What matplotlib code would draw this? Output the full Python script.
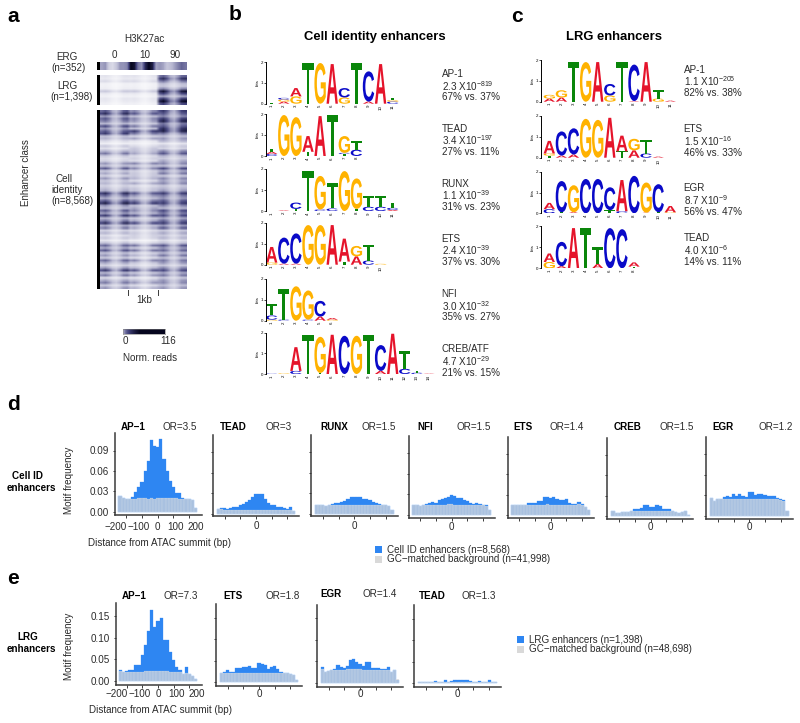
import numpy as np
import matplotlib
matplotlib.use("Agg")
import matplotlib.pyplot as plt
from matplotlib.colors import LinearSegmentedColormap
from matplotlib.font_manager import FontProperties
from matplotlib.patches import PathPatch, Rectangle
from matplotlib.textpath import TextPath
from matplotlib.transforms import Affine2D

plt.rcParams['font.family'] = ['Liberation Sans', 'DejaVu Sans']
plt.rcParams['mathtext.fontset'] = 'custom'
plt.rcParams['mathtext.rm'] = 'Liberation Sans'
plt.rcParams['mathtext.default'] = 'regular'

W, H = 800, 723

# --- panel a: heatmap
column_profile = [0.9, 1.0, 0.85, 0.6, 0.5, 0.7, 0.95, 1.0]
condition_labels = ['0', '10', '90']
erg_row = [0.45, 0.5, 0.25, 0.2, 0.3, 0.5, 0.5, 0.55, 1.0, 0.95, 0.6, 0.5, 0.85, 1.0, 0.9, 0.45,
           0.5, 0.45, 0.3, 0.35, 0.45, 0.55, 0.65, 0.6]
lrg_rows = [0.15, 0.12, 0.2, 0.08, 0.08, 0.1, 0.3, 0.12, 0.08, 0.14, 0.12, 0.08]
lrg_rows_90 = [0.65, 0.85, 0.6, 0.35, 0.3, 0.55, 0.95, 0.75, 0.45, 0.8, 1.0, 0.75]
cell_rows_0 = [0.7, 0.85, 0.5, 0.7, 0.6, 0.4, 0.75, 0.5, 0.7, 0.8, 0.35, 0.4, 0.2, 0.1, 0.3, 0.18,
               0.4, 0.6, 0.3, 0.2, 0.25, 0.5, 0.35, 0.7, 0.3, 0.45, 0.25, 0.5, 0.3, 0.4, 0.25, 0.35,
               0.45, 0.85, 0.65, 0.45, 0.7, 0.9, 0.5, 0.4, 0.7, 0.5, 0.8, 0.4, 0.6, 0.85, 0.45, 0.6,
               0.25, 0.4, 0.2, 0.3, 0.15, 0.35, 0.65, 0.45, 0.7, 0.35, 0.5, 0.3, 0.65, 0.45, 0.25, 0.5,
               0.8, 0.4, 0.6, 0.2, 0.45, 0.6, 0.3, 0.5]
cell_rows_10 = [0.55, 0.7, 0.35, 0.55, 0.5, 0.3, 0.6, 0.35, 0.8, 0.6, 0.25, 0.45, 0.15, 0.1, 0.2, 0.3,
                0.35, 0.45, 0.2, 0.25, 0.2, 0.55, 0.3, 0.55, 0.25, 0.3, 0.3, 0.4, 0.2, 0.45, 0.2, 0.3,
                0.35, 0.7, 0.5, 0.35, 0.6, 0.8, 0.35, 0.45, 0.55, 0.4, 0.7, 0.3, 0.45, 0.75, 0.35, 0.45,
                0.2, 0.3, 0.25, 0.25, 0.1, 0.25, 0.6, 0.3, 0.6, 0.25, 0.4, 0.2, 0.55, 0.3, 0.2, 0.4,
                0.7, 0.3, 0.5, 0.15, 0.35, 0.5, 0.2, 0.4]
cell_rows_90 = [0.8, 0.7, 0.55, 0.8, 0.9, 0.6, 0.7, 0.85, 0.9, 0.6, 0.35, 0.5, 0.4, 0.15, 0.3, 0.25,
                0.55, 0.7, 0.4, 0.3, 0.45, 0.55, 0.35, 0.75, 0.45, 0.6, 0.3, 0.55, 0.45, 0.55, 0.3, 0.4,
                0.5, 0.8, 0.6, 0.5, 0.7, 0.8, 0.55, 0.4, 0.75, 0.6, 0.75, 0.45, 0.65, 0.8, 0.5, 0.7,
                0.3, 0.45, 0.3, 0.4, 0.2, 0.35, 0.7, 0.5, 0.65, 0.4, 0.6, 0.35, 0.6, 0.5, 0.3, 0.55,
                0.75, 0.45, 0.6, 0.3, 0.5, 0.55, 0.35, 0.5]

# --- panels b, c: logo stacks, bottom letter first, heights in bits
ap1_cell = [[('T', .03)], [('A', .1), ('G', .1), ('C', .08)], [('G', .35), ('A', .4)], [('T', 1.95)], [('G', 1.95)],
            [('A', 1.9)], [('G', .3), ('C', .45)], [('T', 1.95)], [('A', .1), ('C', 1.45)], [('A', 1.9)],
            [('C', .1), ('G', .07), ('T', .1)]]
tead_cell = [[('C', .1), ('A', .1), ('T', .15)], [('G', 1.95)], [('G', 1.85)], [('T', .2), ('A', .75)], [('A', 1.9)],
             [('T', 1.95)], [('T', .1), ('C', .05), ('G', .8)], [('C', .3), ('T', .4)]]
runx_cell = [[('T', .02)], [('A', .03)], [('T', .1), ('C', .3)], [('T', 1.9)], [('C', .07), ('G', 1.6)],
             [('C', .12), ('T', 1.2)], [('G', 1.9)], [('T', .1), ('G', 1.45)], [('C', .2), ('T', .5)],
             [('C', .2), ('T', .5)], [('A', .05), ('C', .1), ('T', .25)]]
ets_cell = [[('G', .1), ('A', .75)], [('A', .05), ('C', 1.25)], [('A', .05), ('C', 1.45)], [('G', 1.9)], [('G', 1.9)],
            [('A', 1.9)], [('T', .15), ('A', 1.1)], [('A', .4), ('G', .5)], [('C', .2), ('T', .75)], [('G', .04)]]
nfi_cell = [[('G', .05), ('C', .2), ('T', .55)], [('C', .05), ('T', 1.45)], [('G', 1.65)], [('C', .05), ('G', 1.4)],
            [('A', .2), ('C', .75)], [('G', .05), ('A', .08)]]
creb_cell = [[('C', .02)], [('G', .03)], [('C', .15), ('A', 1.15)], [('T', 1.9)], [('T', .05), ('G', 1.75)], [('A', 1.9)],
             [('C', 1.85)], [('G', 1.85)], [('T', 1.9)], [('A', .15), ('C', 1.25)], [('A', 1.95)],
             [('C', .25), ('T', .85)], [('C', .06), ('T', .1)], [('A', .02)]]
ap1_lrg = [[('A', .15), ('G', .18)], [('A', .2), ('G', .35)], [('T', 1.9)], [('G', 1.9)], [('A', 1.9)],
           [('G', .3), ('C', .55)], [('T', 1.9)], [('A', .03), ('C', 1.75)], [('A', 1.9)], [('G', .15), ('T', .4)],
           [('A', .05)]]
ets_lrg = [[('T', .1), ('G', .1), ('A', .6)], [('A', .1), ('C', 1.15)], [('A', .15), ('C', 1.25)], [('G', 1.85)],
           [('G', 1.8)], [('A', 1.9)], [('T', .3), ('A', .75)], [('A', .35), ('G', .55)], [('C', .2), ('T', .65)],
           [('A', .05)]]
egr_lrg = [[('C', .2), ('A', .3)], [('T', .05), ('C', 1.5)], [('A', .05), ('G', 1.3)], [('C', 1.65)], [('C', 1.65)],
           [('T', .15), ('C', 1.1)], [('C', .1), ('A', 1.5)], [('C', 1.8)], [('A', .03), ('G', 1.45)],
           [('T', .05), ('C', 1.35)], [('G', .05), ('A', .3)]]
tead_lrg = [[('G', .3), ('A', .4)], [('A', .1), ('C', 1.15)], [('A', 1.9)], [('T', 1.9)], [('A', .2), ('T', .8)],
            [('C', 1.9)], [('C', 1.85)], [('T', .08), ('A', .2)]]

logo_b_text = [('AP-1', '2.3 X10$^{-819}$', '67% vs. 37%'), ('TEAD', '3.4 X10$^{-197}$', '27% vs. 11%'),
               ('RUNX', '1.1 X10$^{-39}$', '31% vs. 23%'), ('ETS', '2.4 X10$^{-39}$', '37% vs. 30%'),
               ('NFI', '3.0 X10$^{-32}$', '35% vs. 27%'), ('CREB/ATF', '4.7 X10$^{-29}$', '21% vs. 15%')]
logo_c_text = [('AP-1', '1.1 X10$^{-205}$', '82% vs. 38%'), ('ETS', '1.5 X10$^{-16}$', '46% vs. 33%'),
               ('EGR', '8.7 X10$^{-9}$', '56% vs. 47%'), ('TEAD', '4.0 X10$^{-6}$', '14% vs. 11%')]

# --- panels d, e: motif frequency in 20 bp bins
bin_centers = np.arange(-240, 241, 20)

ap1_d = [.023, .020, .019, .019, .022, .029, .036, .043, .060, .075, .106, .096, .095, .107, .077, .060, .045, .036, .028, .027, .020, .019, .018, .017, .006]
ap1_d_bg = [.023, .020, .019, .019, .019, .019, .020, .020, .020, .019, .020, .019, .020, .020, .020, .020, .020, .020, .020, .018, .019, .018, .018, .017, .006]
tead_d = [.007, .008, .008, .007, .008, .009, .010, .012, .014, .017, .020, .024, .028, .029, .028, .022, .016, .013, .012, .010, .009, .008, .006, .009, .004]
tead_d_bg = [.006, .006, .005, .005, .005, .005, .005, .005, .005, .005, .005, .005, .005, .005, .005, .005, .005, .005, .005, .005, .005, .005, .005, .005, .003]
runx_d = [.013, .013, .012, .011, .012, .014, .015, .016, .017, .019, .021, .024, .024, .024, .025, .022, .021, .020, .017, .015, .014, .013, .012, .011, .005]
runx_d_bg = [.013, .013, .012, .011, .012, .012, .012, .012, .012, .013, .012, .012, .012, .012, .012, .012, .012, .012, .012, .012, .012, .012, .012, .011, .005]
nfi_d = [.014, .014, .013, .014, .015, .017, .018, .017, .021, .023, .024, .026, .028, .027, .025, .024, .022, .020, .017, .016, .017, .016, .014, .014, .007]
nfi_d_bg = [.014, .014, .013, .014, .014, .014, .014, .014, .014, .014, .014, .015, .015, .014, .014, .014, .014, .014, .014, .014, .014, .014, .014, .012, .006]
ets_d = [.015, .015, .014, .015, .015, .017, .018, .018, .020, .021, .026, .026, .025, .027, .023, .022, .022, .023, .018, .016, .016, .019, .016, .012, .007]
ets_d_bg = [.015, .014, .014, .014, .014, .015, .015, .015, .014, .015, .015, .016, .015, .015, .015, .015, .015, .015, .015, .015, .015, .016, .015, .012, .007]
creb_d = [.008, .005, .005, .006, .006, .006, .007, .010, .011, .012, .016, .016, .013, .013, .016, .014, .011, .010, .011, .007, .006, .005, .006, .007, .002]
creb_d_bg = [.008, .005, .005, .006, .006, .006, .007, .007, .007, .007, .007, .007, .007, .007, .007, .007, .007, .007, .007, .007, .006, .005, .006, .007, .002]
egr_d = [.026, .022, .024, .025, .027, .028, .027, .031, .029, .032, .029, .027, .035, .034, .030, .031, .031, .030, .029, .028, .028, .026, .024, .023, .006]
egr_d_bg = [.026, .022, .024, .024, .024, .024, .025, .024, .024, .025, .024, .024, .025, .025, .025, .024, .024, .024, .024, .024, .024, .024, .023, .022, .006]

ap1_e = [.025, .020, .022, .024, .026, .036, .037, .060, .082, .116, .165, .126, .138, .146, .094, .094, .066, .047, .033, .024, .016, .031, .016, .012, .004]
ap1_e_bg = [.022, .020, .020, .021, .021, .021, .021, .021, .022, .022, .022, .022, .022, .022, .022, .022, .021, .021, .020, .020, .016, .019, .016, .012, .004]
ets_e = [.021, .025, .028, .023, .025, .033, .034, .036, .035, .037, .033, .033, .044, .043, .040, .032, .035, .037, .031, .024, .022, .021, .020, .017, .006]
ets_e_bg = [.021, .021, .021, .021, .021, .021, .021, .021, .021, .021, .021, .021, .021, .021, .021, .021, .021, .021, .021, .022, .022, .021, .020, .017, .006]
egr_e = [.036, .024, .028, .029, .031, .042, .036, .034, .040, .052, .054, .049, .044, .040, .047, .049, .034, .034, .035, .033, .033, .037, .026, .030, .006]
egr_e_bg = [.031, .024, .028, .029, .030, .030, .030, .030, .031, .031, .031, .031, .031, .030, .030, .030, .030, .030, .030, .030, .030, .030, .026, .030, .008]
tead_e = [.003, .003, .004, .003, .004, .005, .004, .004, .008, .004, .005, .007, .007, .007, .008, .008, .005, .004, .003, .005, .004, .004, .007, .004, .003]
tead_e_bg = [.003, .003, .003, .003, .003, .003, .003, .003, .004, .003, .003, .004, .004, .004, .004, .004, .003, .003, .003, .003, .003, .003, .003, .003, .003]

letter_colors = {'A': '#e5142b', 'C': '#0a0ac8', 'G': '#ffb200', 'T': '#0a860a'}
blue = '#2e86f2'
grey = '#d9d9d9'
dark = '#3a3a3a'
text_color = '#2a2a2a'

fig = plt.figure(figsize=(W / 100, H / 100), dpi=100, facecolor='white')


def px_axes(left, top, right, bottom, **kw):
    return fig.add_axes([left / W, 1 - bottom / H, (right - left) / W, (bottom - top) / H], **kw)


# overlay in pixel coordinates, only for labels and annotation marks
over = px_axes(0, 0, W, H, zorder=20)
over.set_xlim(0, W)
over.set_ylim(H, 0)
over.axis('off')
over.patch.set_alpha(0)


def txt(x, y, s, size=7.15, ha='left', va='center', **kw):
    kw.setdefault('color', text_color)
    over.text(x, y, s, fontsize=size, ha=ha, va=va, **kw)


# panel letters
for letter, x, y in [('a', 7, 16), ('b', 229, 15), ('c', 511, 16), ('d', 7, 405), ('e', 7, 578)]:
    txt(x, y, letter, size=15, weight='bold', color='black')

# --- panel a
cmap = LinearSegmentedColormap.from_list('reads', [(0, '#ffffff'), (0.4, '#b4b4cf'), (0.75, '#45457f'), (1, '#05051e')])


def draw_heat(top, bottom, rows):
    ax = px_axes(100, top, 187, bottom)
    ax.imshow(rows, cmap=cmap, vmin=0, vmax=1, aspect='auto', interpolation='bilinear')
    ax.axis('off')


draw_heat(62, 70, [erg_row])
lrg_matrix = np.hstack([np.outer(lrg_rows, column_profile), np.outer(lrg_rows, column_profile),
                        np.outer(lrg_rows_90, column_profile)])
draw_heat(75, 105, lrg_matrix)
cell_matrix = np.hstack([np.outer(r, column_profile) for r in (cell_rows_0, cell_rows_10, cell_rows_90)])
draw_heat(110, 289, cell_matrix)

for top, bottom in [(62, 70), (75, 105), (110, 289)]:
    over.add_patch(Rectangle((96.7, top), 3.3, bottom - top, color='black', lw=0))

txt(144, 39, 'H3K27ac', ha='center')
for label, x in zip(condition_labels, [114, 145, 175]):
    txt(x, 55, label, ha='center')
txt(67, 57, 'ERG', ha='center')
txt(68, 68, '(n=352)', ha='center')
txt(67, 86, 'LRG', ha='center')
txt(72, 97, '(n=1,398)', ha='center')
txt(56, 179, 'Cell')
txt(51, 190, 'identity')
txt(51, 201, '(n=8,568)')
txt(26, 173, 'Enhancer class', rotation=90, ha='center')
over.plot([128.3, 128.3], [290, 295], color=dark, lw=0.7)
over.plot([157.5, 157.5], [290, 295], color=dark, lw=0.7)
txt(144, 300, '1kb', ha='center')

cbar = px_axes(123, 329, 165, 334)
cbar.imshow([np.linspace(0, 1, 200) ** 0.25], cmap=cmap, aspect='auto', vmin=0, vmax=0.8)
cbar.set_xticks([])
cbar.set_yticks([])
for s in cbar.spines.values():
    s.set_linewidth(0.4)
    s.set_color('#777777')
txt(125, 341, '0', ha='center')
txt(168, 341, '116', ha='center')
txt(150, 358, 'Norm. reads', ha='center')

# --- panels b, c
logo_font = FontProperties(family='Liberation Sans', weight='bold')


def draw_logo(axis_x, first_center, top, baseline, stacks):
    step = 12.1
    right = first_center + (len(stacks) - 0.5) * step
    ax = px_axes(axis_x, top, right, baseline)
    ax.set_xlim(1 + (axis_x - first_center) / step, len(stacks) + 0.5)
    ax.set_ylim(0, 2)
    ax.patch.set_alpha(0)
    for p, stack in enumerate(stacks, start=1):
        bottom = 0
        for letter, height in stack:
            path = TextPath((0, 0), letter, size=1, prop=logo_font)
            box = path.get_extents()
            tr = (Affine2D().translate(-box.x0, -box.y0).scale(0.94 / box.width, height / box.height)
                  .translate(p - 0.47, bottom))
            ax.add_patch(PathPatch(path, transform=tr + ax.transData, color=letter_colors[letter], lw=0))
            bottom += height
    for name in ['top', 'right', 'bottom']:
        ax.spines[name].set_visible(False)
    ax.spines['left'].set_linewidth(0.7)
    ax.set_yticks([0, 1, 2])
    ax.tick_params(axis='y', labelsize=3.2, length=1.5, width=0.5, pad=0.6)
    ax.set_xticks(range(1, len(stacks) + 1))
    ax.set_xticklabels(range(1, len(stacks) + 1), rotation=90)
    ax.tick_params(axis='x', labelsize=3.2, length=0, pad=0.8)
    ax.set_ylabel('bits', fontsize=3.2, labelpad=0.5)


def motif_text(x, y1, y2, y3, lines):
    txt(x, y1, lines[0])
    txt(x, y2, lines[1])
    txt(x, y3, lines[2])


b_tops = [62, 114, 169, 223, 279, 332.7]
b_bases = [103.7, 156, 211, 264.7, 320.7, 374]
b_stacks = [ap1_cell, tead_cell, runx_cell, ets_cell, nfi_cell, creb_cell]
b_text_y = [(74, 86, 97), (128.7, 140, 152), (183.7, 195, 207), (238.7, 250, 262), (294, 306, 317), (349, 361, 373)]
for t, bs, st, ty, lines in zip(b_tops, b_bases, b_stacks, b_text_y, logo_b_text):
    draw_logo(265.7, 271.7, t, bs, st)
    motif_text(441.7, *ty, lines)

c_tops = [60, 115.7, 171.7, 226]
c_bases = [101.7, 157.7, 213.3, 268.3]
c_stacks = [ap1_lrg, ets_lrg, egr_lrg, tead_lrg]
c_text_y = [(70, 81, 93), (129, 141, 153), (188, 200, 212), (238, 250, 262)]
for t, bs, st, ty, lines in zip(c_tops, c_bases, c_stacks, c_text_y, logo_c_text):
    draw_logo(541, 549.3, t, bs, st)
    motif_text(683.7, *ty, lines)

txt(375, 37, 'Cell identity enhancers', size=9.4, ha='center', weight='bold', color='black')
txt(613.5, 37, 'LRG enhancers', size=9.4, ha='center', weight='bold', color='black')


# --- panels d, e
def hist_panel(left, top, right, bottom, x0, y0, per_px, yticks, fg, bg, name, or_text, name_x, or_x, title_y,
               ylabels=False, tick_label_y=None):
    ax = px_axes(left, top, right, bottom)
    ax.bar(bin_centers, fg, width=20, color=blue, edgecolor=blue, linewidth=0.2)
    ax.bar(bin_centers, bg, width=20, color=grey, alpha=0.72, edgecolor='white', linewidth=0.12)
    ax.set_xlim((left - x0) / 0.157, (right - x0) / 0.157)
    ax.set_ylim((y0 - bottom) * per_px, (y0 - top) * per_px)
    ax.set_xticks([-200, -100, 0, 100, 200])
    ax.set_xticklabels([])
    ax.set_yticks(yticks)
    if ylabels:
        ax.set_yticklabels(ylabels)
    else:
        ax.set_yticklabels([])
    ax.tick_params(length=1.8, width=0.7, color=dark, labelsize=7.15, labelcolor=text_color, pad=2.5)
    for s in ['top', 'right']:
        ax.spines[s].set_visible(False)
    for s in ['left', 'bottom']:
        ax.spines[s].set_linewidth(1.1)
        ax.spines[s].set_color(dark)
    txt(name_x, title_y, name, weight='bold', color='black')
    txt(or_x, title_y, or_text)
    if not ylabels:
        txt(x0, tick_label_y, '0', ha='center')


d_scale = 0.03 / 20.4
e_scale = 0.05 / 21.5
d_ticks = [0, .03, .06, .09]
e_ticks = [0, .05, .10, .15]
hist_panel(115, 433, 201.7, 515, 157.7, 511.7, d_scale, d_ticks, ap1_d, ap1_d_bg, 'AP\u22121', 'OR=3.5', 121, 162.7, 426.7,
           ylabels=['0.00', '0.03', '0.06', '0.09'])
hist_panel(213.3, 435, 299, 516, 256, 513.5, d_scale, d_ticks, tead_d, tead_d_bg, 'TEAD', 'OR=3', 220, 265.7, 426.7, tick_label_y=526)
hist_panel(311, 435, 397.7, 516, 354.3, 513.5, d_scale, d_ticks, runx_d, runx_d_bg, 'RUNX', 'OR=1.5', 320, 362, 426.7, tick_label_y=526)
hist_panel(409, 436, 495, 517.7, 451.7, 514.5, d_scale, d_ticks, nfi_d, nfi_d_bg, 'NFI', 'OR=1.5', 417.3, 456.7, 426.7, tick_label_y=527)
hist_panel(508, 436.7, 594.3, 518, 550.7, 515, d_scale, d_ticks, ets_d, ets_d_bg, 'ETS', 'OR=1.4', 513, 549, 426.7, tick_label_y=527)
hist_panel(607.3, 437.7, 693, 519.3, 650.7, 516, d_scale, d_ticks, creb_d, creb_d_bg, 'CREB', 'OR=1.5', 614, 660, 426.7, tick_label_y=527)
hist_panel(706, 437, 792.7, 519.3, 749.3, 515.5, d_scale, d_ticks, egr_d, egr_d_bg, 'EGR', 'OR=1.2', 712.7, 758.7, 426.7, tick_label_y=527)

hist_panel(115.7, 603, 201.7, 685, 158, 680.7, e_scale, e_ticks, ap1_e, ap1_e_bg, 'AP\u22121', 'OR=7.3', 121.7, 163.3, 596,
           ylabels=['0.00', '0.05', '0.10', '0.15'])
hist_panel(216, 604, 302.3, 685.7, 259, 682.3, e_scale, e_ticks, ets_e, ets_e_bg, 'ETS', 'OR=1.8', 223.3, 265, 596, tick_label_y=694)
hist_panel(316.7, 605, 402.7, 686.7, 360, 682.7, e_scale, e_ticks, egr_e, egr_e_bg, 'EGR', 'OR=1.4', 320.7, 362.7, 594, tick_label_y=694)
hist_panel(414.3, 605, 500.7, 686.7, 457.7, 683.3, e_scale, e_ticks, tead_e, tead_e_bg, 'TEAD', 'OR=1.3', 419.3, 461, 596, tick_label_y=694)

# hand placed range labels under the two AP-1 panels
for label, x in zip(['\u2212200', '\u2212100', '0', '100', '200'], [116, 138.5, 157.7, 176, 196]):
    txt(x, 527.5, label, ha='center')
    txt(x + 1, 694, label, ha='center')

txt(87.7, 543, 'Distance from ATAC summit (bp)')
txt(89.3, 710, 'Distance from ATAC summit (bp)')
txt(69, 480.7, 'Motif frequency', rotation=90, ha='center')
txt(69, 646, 'Motif frequency', rotation=90, ha='center')
txt(28, 476, 'Cell ID', ha='center', weight='bold', color='black')
txt(31, 488, 'enhancers', ha='center', weight='bold', color='black')
txt(28, 636.7, 'LRG', ha='center', weight='bold', color='black')
txt(31, 649, 'enhancers', ha='center', weight='bold', color='black')

# legends
for x, y, c, label in [(375, 549.5, blue, 'Cell ID enhancers (n=8,568)'),
                       (375, 559, grey, 'GC\u2212matched background (n=41,998)'),
                       (517.3, 639.5, blue, 'LRG enhancers (n=1,398)'),
                       (517.3, 649, grey, 'GC\u2212matched background (n=48,698)')]:
    over.add_patch(Rectangle((x, y - 3.5), 7, 7, color=c, lw=0))
    txt(x + 12, y + 0.3, label)

fig.savefig('out.png', dpi=100)
